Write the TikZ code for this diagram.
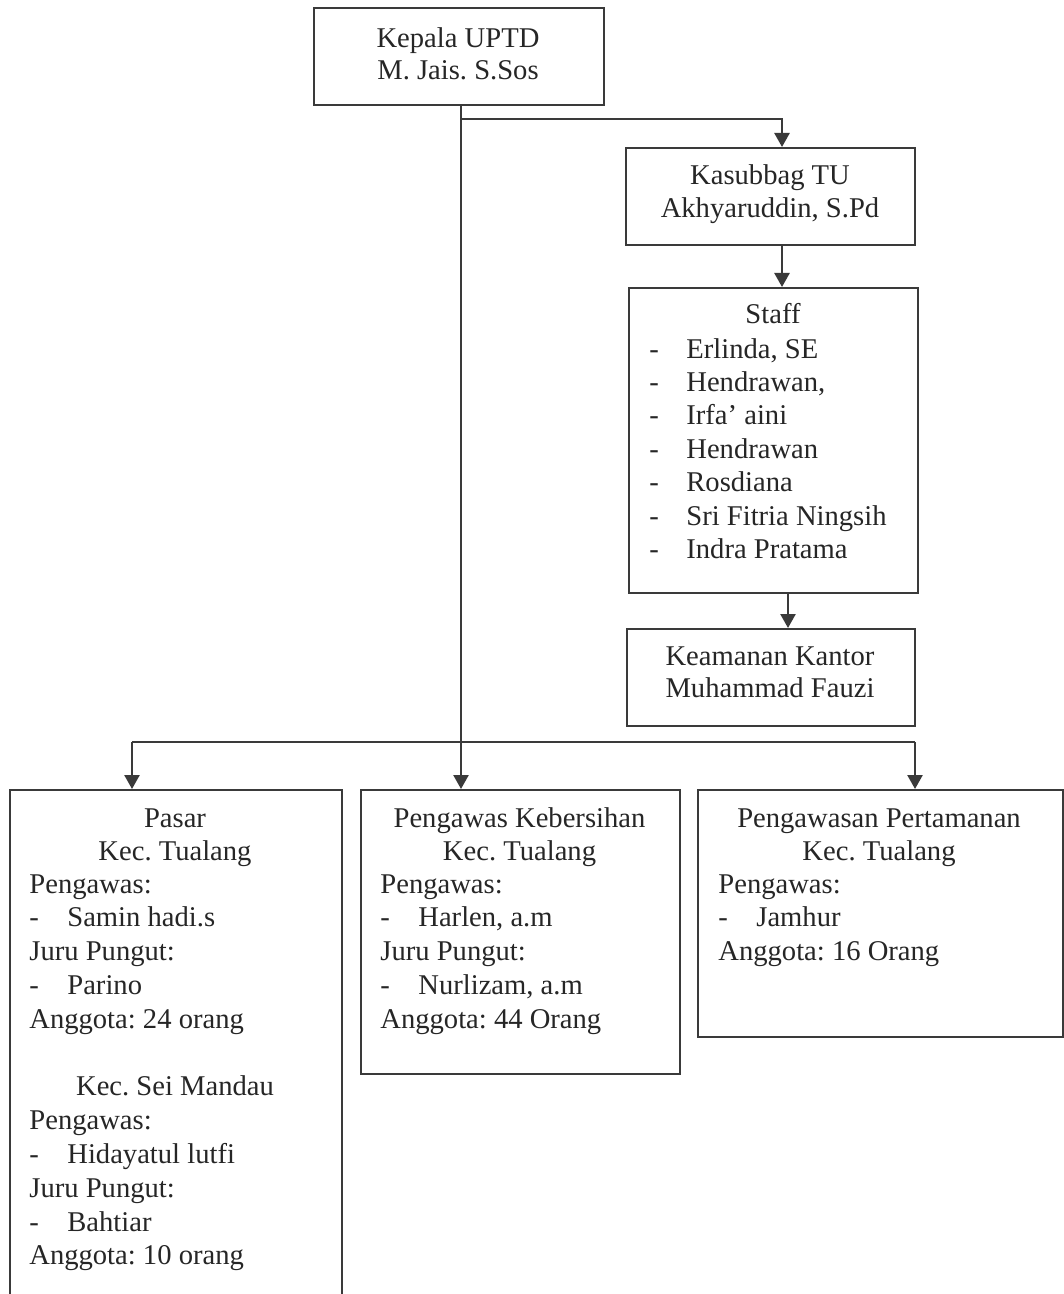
\documentclass[tikz,border=0pt]{standalone}
\usepackage{fontspec}
\setmainfont{Liberation Serif}
\usetikzlibrary{arrows.meta}
\definecolor{ink}{HTML}{3A3A3A}
\definecolor{txtc}{HTML}{262626}
\newcommand{\dashitem}[1]{\makebox[19pt][l]{-}#1}
\frenchspacing
\begin{document}
\begin{tikzpicture}[x=0.5pt,y=-0.5pt,
  box/.style={draw=ink,line width=0.8pt,inner sep=0pt,anchor=north west},
  txt/.style={text=txtc,font=\fontsize{14.3}{16.8}\selectfont\frenchspacing,inner sep=0pt},
  ltxt/.style={txt,anchor=base west},
  ctxt/.style={txt,anchor=base},
  conn/.style={draw=ink,line width=1.25pt},
  arr/.style={conn,-{Triangle[length=7pt,width=7.5pt]}}]
\useasboundingbox (0,0) rectangle (1064,1294);
\fill[white] (0,0) rectangle (1064,1294);

% ---- boxes ----
\node[box,minimum width=145pt,minimum height=48.5pt] (kepala) at (313,7) {};
\node[box,minimum width=144.5pt,minimum height=48.5pt] (kasubbag) at (625,147) {};
\node[box,minimum width=144.5pt,minimum height=152.5pt] (staff) at (628,287) {};
\node[box,minimum width=144pt,minimum height=48.5pt] (keamanan) at (626,628) {};
\node[box,minimum width=166pt,minimum height=270pt] (pasar) at (9,789) {};
\node[box,minimum width=159.5pt,minimum height=142pt] (kebersihan) at (360,789) {};
\node[box,minimum width=182.5pt,minimum height=123.5pt] (taman) at (697,789) {};

% ---- text of top boxes ----
\node[ctxt] (kepalaA) at (458,48) {Kepala UPTD};
\node[ctxt] (kepalaB) at (458,80) {M. Jais. S.Sos};
\node[ctxt] (kasubA) at (770,185) {Kasubbag TU};
\node[ctxt] (kasubB) at (770,218) {Akhyaruddin, S.Pd};
\node[ctxt] (staffT) at (773,323) {Staff};
\foreach \t [count=\i from 0] in {{Erlinda, SE},{Hendrawan,},{Irfa’ aini},{Hendrawan},{Rosdiana},{Sri Fitria Ningsih},{Indra Pratama}}
  \node[ltxt,name=staff\i] at (649,{358+\i*33.4}) {\makebox[18.5pt][l]{-}\t};
\node[ctxt] (keamA) at (770,665) {Keamanan Kantor};
\node[ctxt] (keamB) at (770,697) {Muhammad Fauzi};

% ---- text of bottom boxes ----
\node[ctxt] (pasarA) at (175,827) {Pasar};
\node[ctxt] (pasarB) at (175,860) {Kec. Tualang};
\foreach \t [count=\i from 0] in {{Pengawas:},{\dashitem{Samin hadi.s}},{Juru Pungut:},{\dashitem{Parino}},{Anggota: 24 orang}}
  \node[ltxt,name=pasarL\i] at (29,{893+\i*33.8}) {\t};
\node[ctxt] (pasarC) at (175,{893+6*33.8}) {Kec. Sei Mandau};
\foreach \t [count=\i from 7] in {{Pengawas:},{\dashitem{Hidayatul lutfi}},{Juru Pungut:},{\dashitem{Bahtiar}},{Anggota: 10 orang}}
  \node[ltxt,name=pasarL\i] at (29,{893+\i*33.8}) {\t};

\node[ctxt] (bersihA) at (519.5,827) {Pengawas Kebersihan};
\node[ctxt] (bersihB) at (519.5,860) {Kec. Tualang};
\foreach \t [count=\i from 0] in {{Pengawas:},{\dashitem{Harlen, a.m}},{Juru Pungut:},{\dashitem{Nurlizam, a.m}},{Anggota: 44 Orang}}
  \node[ltxt,name=bersihL\i] at (380,{893+\i*33.8}) {\t};

\node[ctxt] (tamanA) at (879,827) {Pengawasan Pertamanan};
\node[ctxt] (tamanB) at (879,860) {Kec. Tualang};
\foreach \t [count=\i from 0] in {{Pengawas:},{\dashitem{Jamhur}},{Anggota: 16 Orang}}
  \node[ltxt,name=tamanL\i] at (718,{893+\i*33.8}) {\t};

% ---- connector guide coordinates ----
\coordinate (trunk) at (461,119);
\coordinate (branchR) at (782,119);
\coordinate (staffX) at (788,0);
\coordinate (barL) at (132,742);
\coordinate (barR) at (915,742);

% ---- connectors ----
\draw[arr] (kepala.south -| trunk) -- (kebersihan.north -| trunk);
\draw[arr] (trunk) -- (branchR) -- (kasubbag.north -| branchR);
\draw[arr] (kasubbag.south -| branchR) -- (staff.north -| branchR);
\draw[arr] (staff.south -| staffX) -- (keamanan.north -| staffX);
\draw[conn] (barL) -- (barR);
\draw[arr] (barL) -- (pasar.north -| barL);
\draw[arr] (barR) -- (taman.north -| barR);
\end{tikzpicture}
\end{document}
